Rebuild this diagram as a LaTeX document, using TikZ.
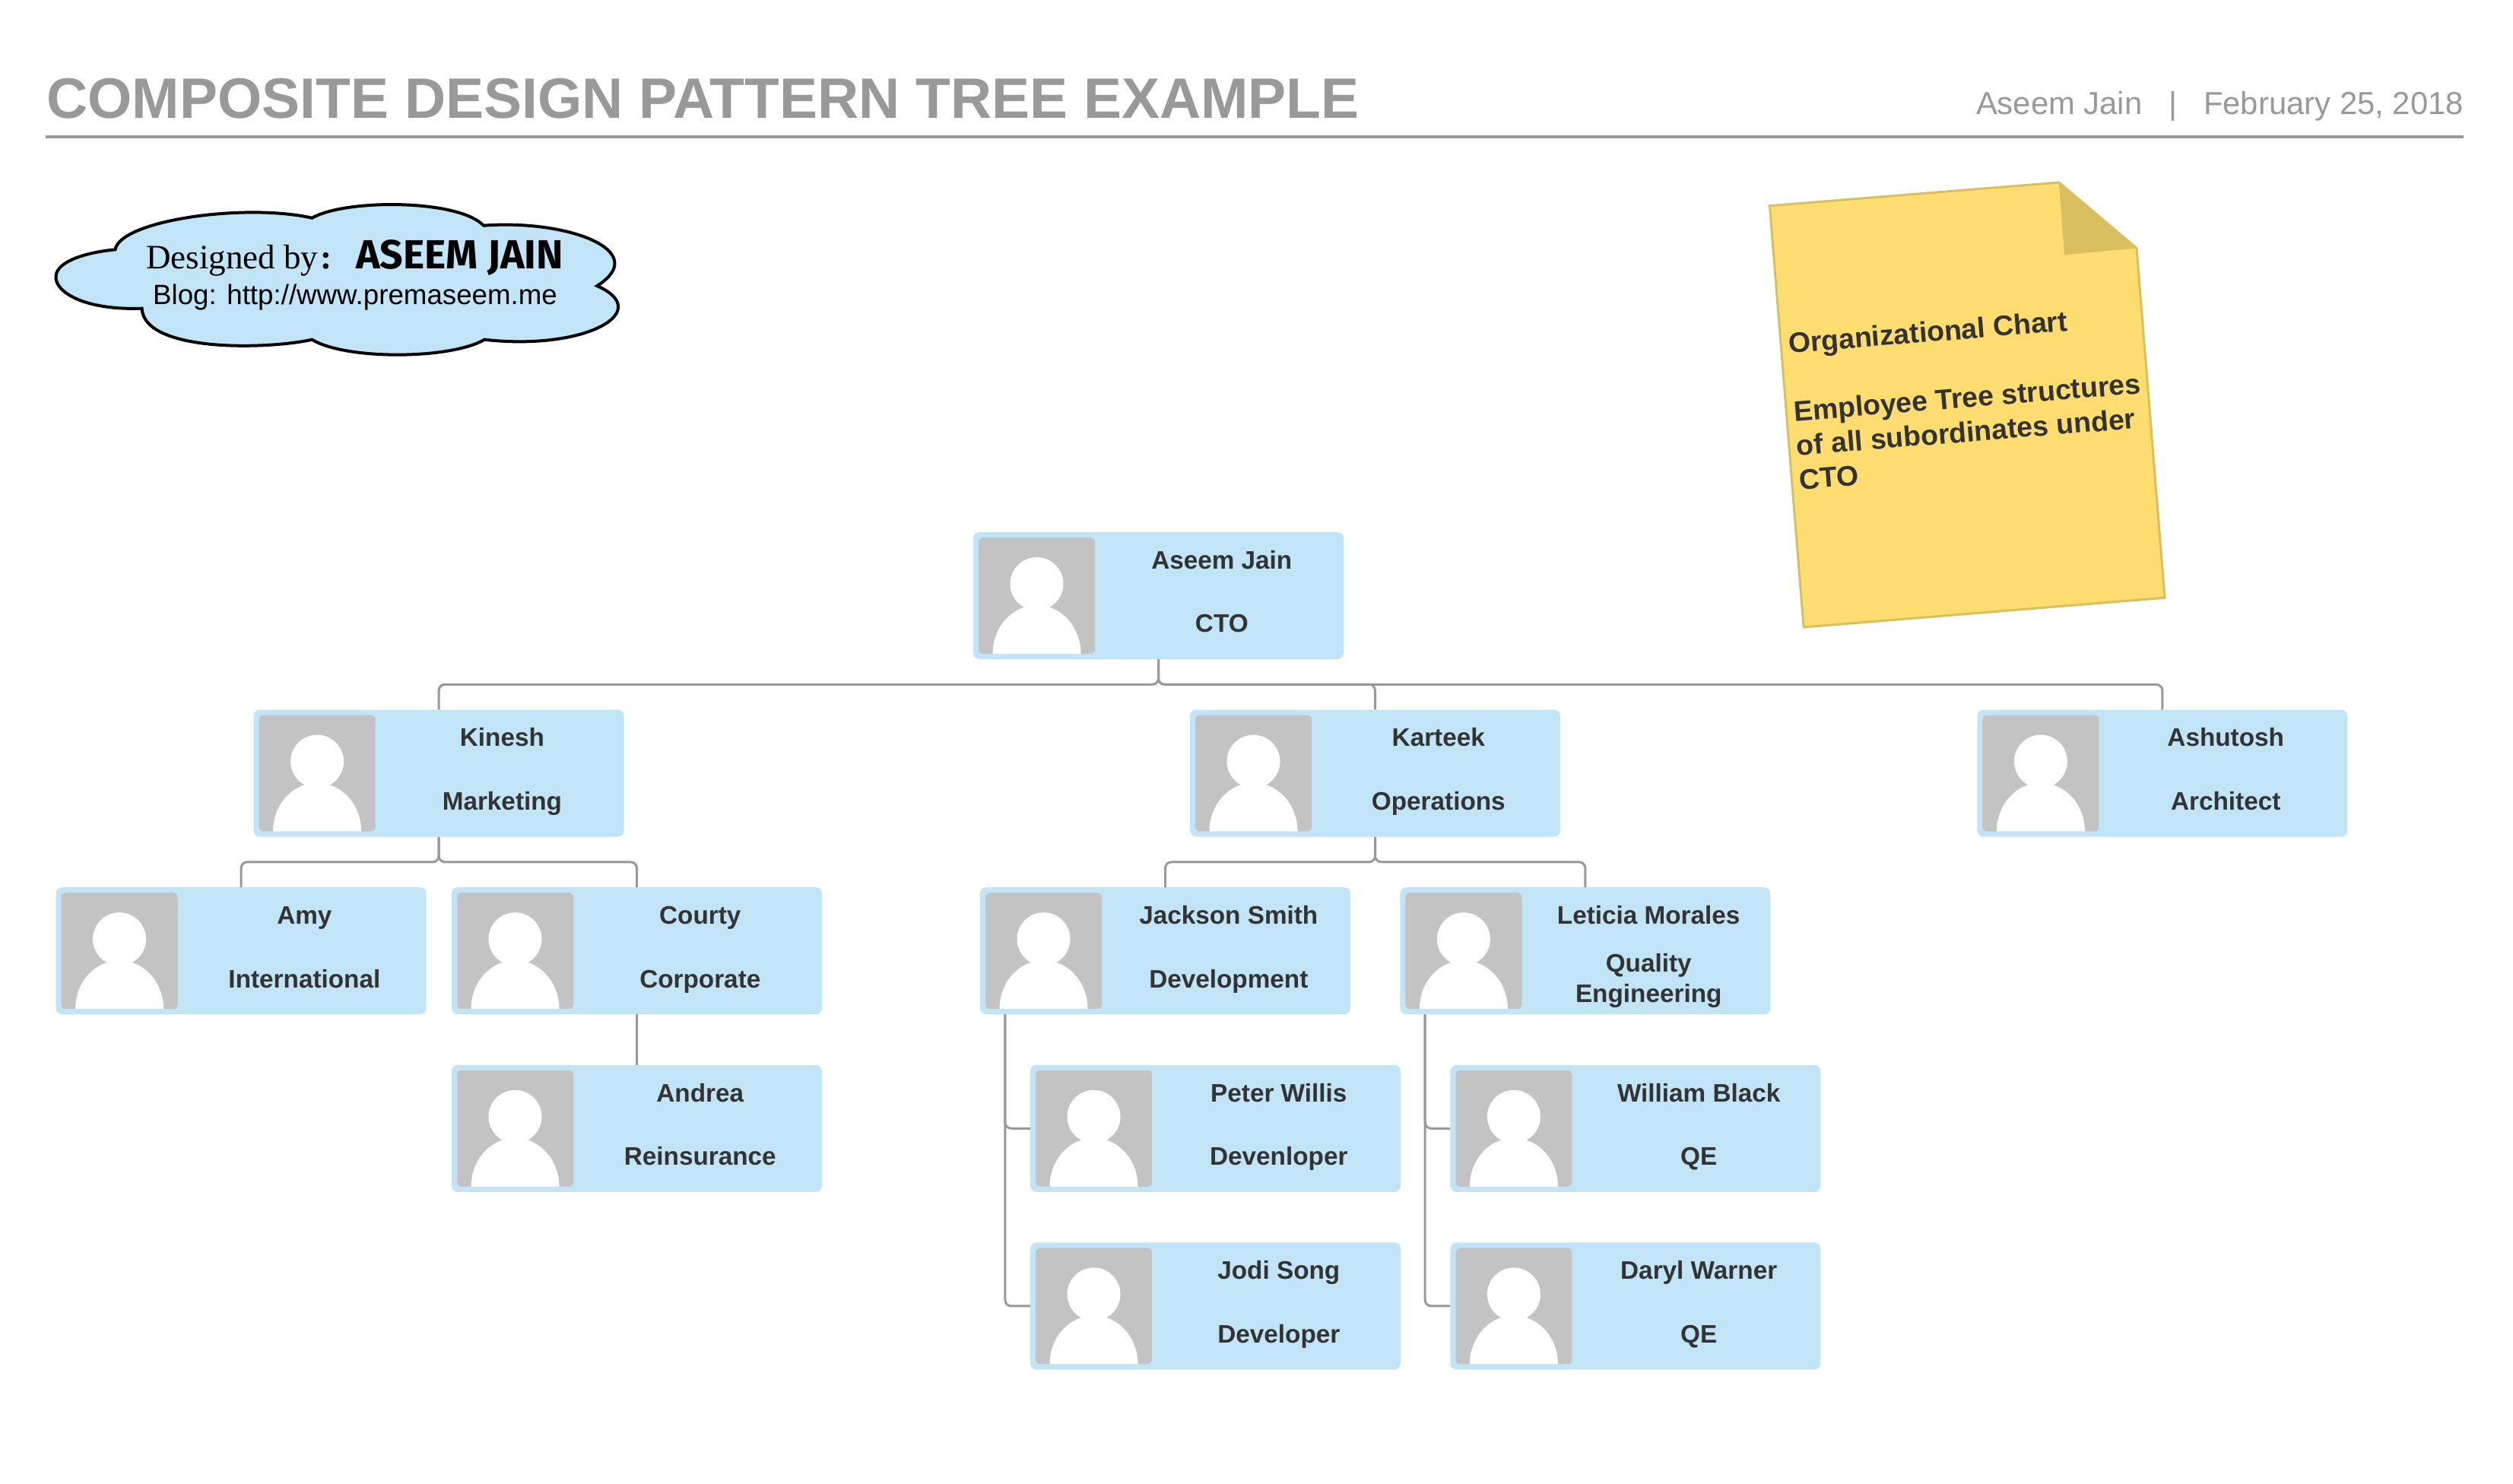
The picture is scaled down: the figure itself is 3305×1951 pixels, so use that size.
\documentclass[tikz,border=0pt]{standalone}
\usepackage{fontspec}
\setmainfont{Liberation Sans}
\newfontfamily\serifname{Liberation Serif}
\newfontfamily\handname{Fira Sans}
\usepackage{xcolor}
\definecolor{cardBlue}{HTML}{C1E4F7}
\definecolor{photoGray}{HTML}{C3C3C3}
\definecolor{linkGray}{HTML}{999999}
\definecolor{inkDark}{HTML}{333333}
\definecolor{noteYellow}{HTML}{FFDD71}
\definecolor{noteEdge}{HTML}{D9BF5F}
\usetikzlibrary{calc, positioning}
\tikzset{
	node distance = 66.2pt,
	card/.style={
		rectangle,
		fill=cardBlue,
		rounded corners=8pt,
		minimum width=487pt,
		minimum height=167pt,
		inner sep=0pt
	},
	photo/.style={
		rectangle,
		fill=photoGray,
		rounded corners=6pt,
		minimum size=153pt,
		inner sep=0pt,
		path picture={
			\fill[white] ($(path picture bounding box.center)+(0,-15.5)$) circle (35pt);
			\fill[white] (path picture bounding box.south) ellipse [x radius=58pt, y radius=64pt];
		}
	},
	cardtext/.style={
		anchor=base,
		align=center,
		inner sep=0pt,
		text=inkDark,
		font=\bfseries\fontsize{33.3}{40}\selectfont
	},
	link/.style={
		draw=linkGray,
		line width=3pt,
		rounded corners=8pt
	}
}
\newcommand{\person}[5][132]{
	\node[card,#3] (#2) {};
	\node[photo,right=7pt of #2.west] (#2photo) {};
	\node[cardtext] (#2name) at ($(#2.north west)+(327,48.5)$) {#4};
	\node[cardtext] (#2role) at ($(#2.north west)+(327,#1)$) {#5};
}

\begin{document}
\begin{tikzpicture}[x=1pt,y=-1pt]
	\useasboundingbox (0,0) rectangle (3305,1951);

	\node[anchor=base west,inner sep=0pt,text=linkGray,font=\bfseries\fontsize{75}{80}\selectfont] (title) at (61,155) {COMPOSITE DESIGN PATTERN TREE EXAMPLE};
	\node[anchor=base east,inner sep=0pt,text=linkGray,font=\fontsize{41.8}{48}\selectfont] (byline) at (3240,150) {Aseem Jain\hspace{35pt}|\hspace{35pt}February 25, 2018};
	\coordinate (ruleleft) at (60,180);
	\coordinate (ruleright) at (3240,180);
	\draw[linkGray,line width=4pt] (ruleleft) -- (ruleright);

	\draw[fill=cardBlue,line width=4pt] (151.5,328.3)
		.. controls (157.9,290) and (321.5,266.7) .. (410.4,286.7)
		.. controls (453.5,261.7) and (602.8,261.7) .. (636,296.7)
		.. controls (746.3,288.3) and (858,330) .. (785.3,376)
		.. controls (862,410) and (769.2,461.7) .. (637.2,446.7)
		.. controls (591.3,473.3) and (453.5,473.3) .. (410.4,446.7)
		.. controls (350.2,460) and (189.4,463.3) .. (186.6,405.7)
		.. controls (109.1,408.3) and (71.8,383.3) .. (73.5,363.3)
		.. controls (74.6,343.3) and (114.8,331.7) .. (151.5,328.3) -- cycle;
	\node[anchor=base west,inner sep=0pt,font=\serifname\fontsize{45}{50}\selectfont] (designed) at (192,353) {Designed by\hspace{3pt}\textbf{:}};
	\node[anchor=base west,inner sep=0pt,font=\handname\bfseries\fontsize{53.5}{58}\selectfont] (designer) at (468,353) {ASEEM JAIN};
	\node[anchor=base,inner sep=0pt,font=\fontsize{36.7}{42}\selectfont] (blog) at (467,400) {Blog: http://www.premaseem.me};

	\draw[noteEdge,fill=noteYellow,line width=3pt] (2327.4,270.7) -- (2707.8,240) -- (2809.9,326.3) -- (2847,786.3) -- (2372.1,825) -- cycle;
	\fill[noteEdge] (2707.8,240) -- (2809.9,326.3) -- (2715,335.5) -- cycle;
	\node[anchor=west,rotate=4.6,align=left,inner sep=0pt,text=inkDark,font=\bfseries\fontsize{37.4}{45}\selectfont] (notetext) at (2359,541) {Organizational Chart\\[45pt]Employee Tree structures\\of all subordinates under\\CTO};

	\person{aseem}{at={(1523.5,783.5)}}{Aseem Jain}{CTO}
	\person{kinesh}{below left=66.2pt and 459pt of aseem}{Kinesh}{Marketing}
	\person{karteek}{below=of aseem,xshift=285pt}{Karteek}{Operations}
	\person{ashutosh}{right=548pt of karteek}{Ashutosh}{Architect}
	\person{amy}{below=of kinesh,xshift=-260pt}{Amy}{International}
	\person{courty}{right=33pt of amy}{Courty}{Corporate}
	\person{andrea}{below=of courty}{Andrea}{Reinsurance}
	\person{jackson}{below=of karteek,xshift=-276pt}{Jackson Smith}{Development}
	\person[151]{leticia}{right=65pt of jackson}{Leticia Morales}{Quality\\Engineering}
	\person{peter}{below=of jackson,xshift=66pt}{Peter Willis}{Devenloper}
	\person{jodi}{below=of peter}{Jodi Song}{Developer}
	\person{william}{below=of leticia,xshift=66pt}{William Black}{QE}
	\person{daryl}{below=of william}{Daryl Warner}{QE}

	\draw[link] (aseem.south) -- ++(0,33.1) -| (kinesh.north);
	\draw[link] (aseem.south) -- ++(0,33.1) -| (karteek.north);
	\draw[link] (aseem.south) -- ++(0,33.1) -| (ashutosh.north);
	\draw[link] (kinesh.south) -- ++(0,33.1) -| (amy.north);
	\draw[link] (kinesh.south) -- ++(0,33.1) -| (courty.north);
	\draw[link] (courty.south) -- (andrea.north);
	\draw[link] (karteek.south) -- ++(0,33.1) -| (jackson.north);
	\draw[link] (karteek.south) -- ++(0,33.1) -| (leticia.north);
	\draw[link] ([xshift=33pt]jackson.south west) |- (peter.west);
	\draw[link] ([xshift=33pt]jackson.south west) |- (jodi.west);
	\draw[link] ([xshift=33pt]leticia.south west) |- (william.west);
	\draw[link] ([xshift=33pt]leticia.south west) |- (daryl.west);
\end{tikzpicture}
\end{document}
